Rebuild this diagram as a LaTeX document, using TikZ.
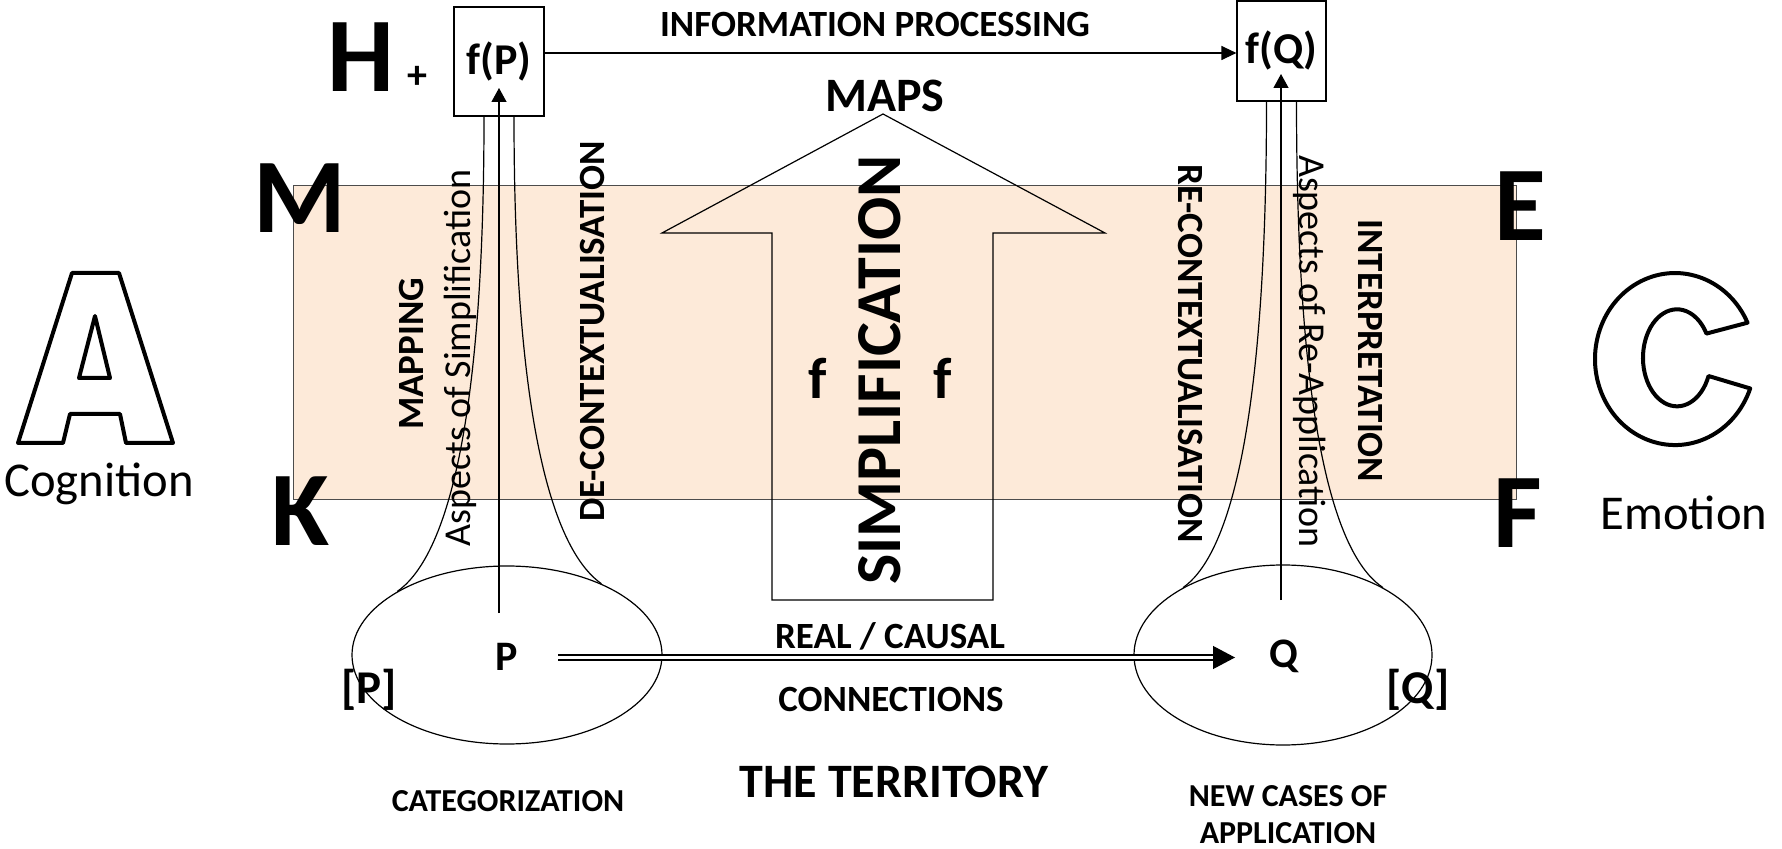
\documentclass[tikz,border=0pt]{standalone}
\usepackage{fontspec}
\setmainfont{Carlito}
\usepackage{tikz}
\usetikzlibrary{arrows.meta, positioning, shapes.geometric}
\definecolor{mapfill}{RGB}{253,234,217}

\newcommand{\fsz}[1]{\fontsize{#1}{#1}\selectfont}

\begin{document}
\begin{tikzpicture}[x=0.5pt,y=-0.5pt,line width=0.6pt]
  \tikzstyle{big letter}=[font=\bfseries\fsz{53}]
  \tikzstyle{caps}=[font=\bfseries\fsz{18.5}]
  \tikzstyle{aspect}=[font=\fsz{19}]
  \tikzstyle{fbox}=[draw, minimum width=45pt, inner sep=0pt, font=\bfseries\fsz{22}]
  \tikzstyle{region}=[draw, ellipse, inner sep=0pt]
  \tikzstyle{tip}=[-{Triangle[length=7pt,width=7.5pt]}]

  \useasboundingbox (0,0) rectangle (1782,849);

  % the map strip
  \fill[mapfill] (293,186) rectangle (1516,500);
  \draw[black!70, line width=0.5pt] (293,186) rectangle (1516,500);

  % outlined A and C
  \draw[line width=2pt, line join=round]
    (18,443) -- (72,273) -- (119,273) -- (173,443) -- (126,443) -- (120,414)
    -- (70,414) -- (63,443) -- cycle
    (95,316) -- (110,378) -- (79,378) -- cycle;
  \draw[line width=2pt, line join=round]
    (1747.5,322.7) arc[start angle=25, end angle=340, x radius=40pt, y radius=43pt]
    -- (1708.5,376) arc[start angle=-22, end angle=-330, x radius=17pt, y radius=24.25pt]
    -- cycle;
  \node[font=\fsz{24.3}] (cog) at (99,484) {Cognition};
  \node[font=\fsz{24.3}] (emo) at (1684,513) {Emotion};

  \node[big letter] (M) at (300,198) {M};
  \node[big letter] (K) at (300,511) {K};
  \node[big letter] (E) at (1520,206) {E};
  \node[big letter] (F) at (1518,513) {F};
  \node[big letter] (H) at (361,57) {H};
  \node[font=\bfseries\fsz{20}] (plus) at (417,77) {+};

  % the two maps
  \node[fbox, minimum height=54.5pt] (fP) at (499,61.5) {f(P)};
  \node[fbox, minimum height=50pt, minimum width=44.5pt] (fQ) at (1281.5,51) {f(Q)};
  \coordinate (infoStart) at ([yshift=4.25pt]fP.east);
  \draw[-{Triangle[length=7.5pt,width=7pt]}] (infoStart) -- (infoStart -| fQ.west);
  \node[font=\bfseries\fsz{18.5}] (info) at (875,25) {INFORMATION PROCESSING};

  % simplification arrow
  \draw (883,114) -- (1105,233) -- (993,233) -- (993,600) -- (772,600)
    -- (772,233) -- (662,233) -- cycle;
  \node[font=\bfseries\fsz{24}] (maps) at (885,96) {MAPS};
  \node[font=\bfseries\fsz{32}, rotate=90] (simp) at (880,370) {SIMPLIFICATION};
  \node[font=\bfseries\fsz{29}] (f1) at (818,378) {f};
  \node[font=\bfseries\fsz{29}] (f2) at (943,378) {f};

  % the territory
  \node[region, minimum width=155pt, minimum height=89pt] (catP) at (507,655) {};
  \node[region, minimum width=149pt, minimum height=90pt] (catQ) at (1283,655) {};
  \node[font=\bfseries\fsz{21}] (P) at (507,657) {P};
  \node[font=\bfseries\fsz{21}] (Q) at (1284,656) {Q};
  \node[font=\bfseries\fsz{23.5}] (Pcls) at (369,690) {[P]};
  \node[font=\bfseries\fsz{23.5}] (Qcls) at (1418,690) {[Q]};

  \coordinate (pq0) at (558,657.5);
  \coordinate (pq1) at (1213,657.5);
  \coordinate (pq2) at (1235,657.5);
  \draw[double, double distance=1.6pt, line width=0.8pt] (pq0) -- (pq1);
  \draw[-{Triangle[length=11pt,width=11.5pt]}] (pq1) -- (pq2);

  % flares between territory and maps
  \draw ([xshift=-7.5pt]fP.south) .. controls +(0,334) and +(43,-30) .. (catP.150);
  \draw ([xshift=7.5pt]fP.south) .. controls +(0,334) and +(-41,-29) .. (catP.37);
  \draw ([xshift=-7.5pt]fQ.south) .. controls +(0,350) and +(40,-28) .. (catQ.146);
  \draw ([xshift=7.5pt]fQ.south) .. controls +(0,350) and +(-42,-28) .. (catQ.34);

  \coordinate (pBase) at (499,613);
  \coordinate (pTip) at (499,88);
  \coordinate (qBase) at (1281,600);
  \coordinate (qTip) at (1281,74);
  \draw[tip] (pBase) -- (pTip);
  \draw[tip] (qBase) -- (qTip);

  % side labels
  \node[caps, rotate=90] (mapping) at (411.5,354) {MAPPING};
  \node[aspect, rotate=90] (aspS) at (460,358) {Aspects of Simplification};
  \node[caps, rotate=90] (decon) at (592,331.5) {DE-CONTEXTUALISATION};
  \node[caps, rotate=-90] (recon) at (1190,353.5) {RE-CONTEXTUALISATION};
  \node[aspect, rotate=-90] (aspR) at (1310,351.5) {Aspects of Re-Application};
  \node[caps, rotate=-90] (interp) at (1370,351) {INTERPRETATION};

  \node[font=\bfseries\fsz{18.5}] (real) at (890,636) {REAL / CAUSAL};
  \node[font=\bfseries\fsz{18.5}] (conn) at (891,699) {CONNECTIONS};
  \node[font=\bfseries\fsz{24}] (terr) at (894,782) {THE TERRITORY};
  \node[font=\bfseries\fsz{16}] (categ) at (508,801) {CATEGORIZATION};
  \node[font=\bfseries\fsz{16}] (newc) at (1288,796) {NEW CASES OF};
  \node[font=\bfseries\fsz{16}] (appl) at (1288,833) {APPLICATION};
\end{tikzpicture}
\end{document}
